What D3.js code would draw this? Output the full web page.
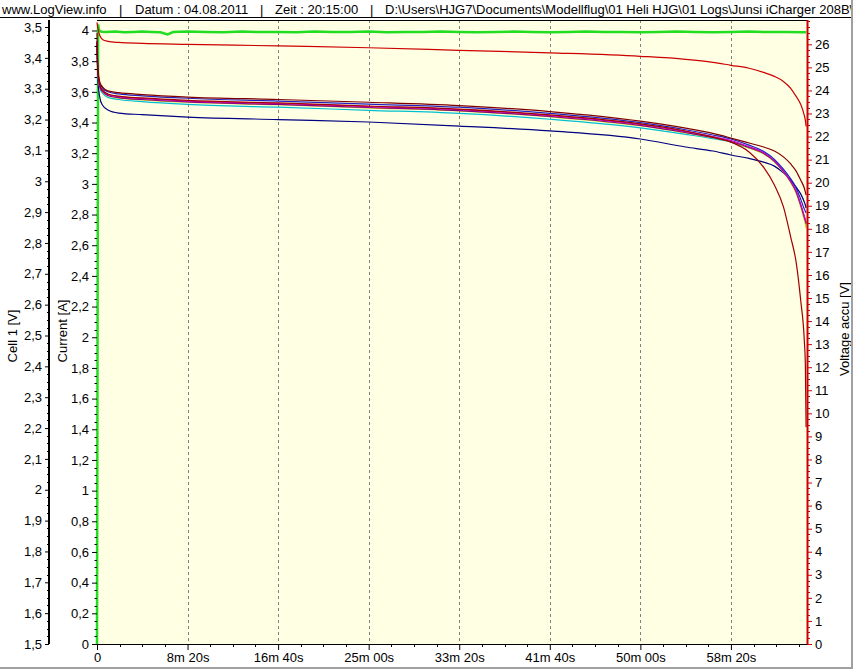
<!DOCTYPE html>
<html><head><meta charset="utf-8">
<script src="https://cdn.jsdelivr.net/npm/d3@7"></script>
<style>
body{margin:0;background:#fff;}
svg{display:block;font-family:"Liberation Sans",Arial,sans-serif;}
</style></head><body>
<svg id="chart" width="853" height="671"></svg>
<script>
// ---------- DATA ----------
const timeSec = [0,5,15,30,60,120,250,500,1000,1500,2000,2500,3000,3250,3400,3500,3600,3680,3740,3790,3830,3860,3885,3905,3911,3915];
const cellNavy    = [3.442,3.328,3.273,3.247,3.231,3.221,3.216,3.208,3.200,3.192,3.179,3.163,3.137,3.111,3.098,3.085,3.074,3.062,3.049,3.027,3.004,2.981,2.959,2.933,2.923,2.913];
const cellBlue    = [3.455,3.360,3.318,3.303,3.290,3.283,3.277,3.269,3.260,3.250,3.240,3.220,3.190,3.167,3.150,3.137,3.117,3.097,3.071,3.039,3.008,2.978,2.942,2.910,2.903,2.897];
const cellMaroon  = [3.481,3.370,3.322,3.306,3.293,3.287,3.281,3.273,3.265,3.256,3.245,3.226,3.195,3.172,3.155,3.140,3.124,3.111,3.098,3.079,3.056,3.033,3.004,2.978,2.965,2.955];
const cellRed     = [3.451,3.354,3.312,3.296,3.283,3.276,3.270,3.262,3.254,3.244,3.234,3.215,3.186,3.163,3.143,3.127,3.095,3.046,2.988,2.917,2.819,2.738,2.615,2.485,2.404,2.203];
const cellMagenta = [3.450,3.352,3.310,3.294,3.281,3.274,3.268,3.260,3.252,3.242,3.232,3.213,3.184,3.161,3.145,3.132,3.112,3.093,3.066,3.033,3.000,2.968,2.925,2.887,2.875,2.865];
const cellPurple  = [3.446,3.349,3.307,3.291,3.278,3.271,3.265,3.257,3.249,3.239,3.229,3.210,3.181,3.158,3.142,3.129,3.110,3.091,3.065,3.032,2.999,2.966,2.924,2.885,2.873,2.863];
const cellCyan    = [3.445,3.345,3.303,3.286,3.272,3.265,3.258,3.249,3.240,3.230,3.220,3.201,3.173,3.152,3.138,3.127,3.108,3.090,3.064,3.032,2.998,2.965,2.922,2.882,2.870,2.860];
const cellYellow  = [3.448,3.350,3.308,3.291,3.277,3.270,3.264,3.256,3.248,3.238,3.228,3.209,3.180,3.157,3.141,3.128,3.108,3.089,3.063,3.030,2.996,2.962,2.918,2.876,2.862,2.850];
const accuVolt    = [26.95,26.69,26.39,26.21,26.13,26.08,26.04,26.00,25.93,25.85,25.74,25.63,25.48,25.35,25.22,25.09,24.96,24.78,24.61,24.39,24.09,23.74,23.40,22.92,22.70,22.44];

const currentTime = [0,6,12,25,50,100,150,200,250,300,350,390,420,500,600,700,800,900,1000,1100,1200,1300,1400,1500,1600,1700,1800,1900,2000,2100,2200,2300,2400,2500,2600,2700,2800,2900,3000,3100,3200,3300,3400,3500,3600,3700,3800,3900,3915];
const currentAmp  = [0,4.04,4.0,3.992,3.99,3.993,3.989,3.991,3.993,3.99,3.988,3.975,3.99,3.993,3.99,3.989,3.993,3.99,3.991,3.989,3.993,3.99,3.991,3.993,3.989,3.99,3.991,3.993,3.99,3.989,3.991,3.993,3.99,3.989,3.991,3.993,3.99,3.991,3.989,3.99,3.993,3.99,3.989,3.991,3.993,3.99,3.991,3.989,3.988];

const xTickValues = [0,500,1000,1500,2000,2500,3000,3500];
const xTickLabels = ["0","8m 20s","16m 40s","25m 00s","33m 20s","41m 40s","50m 00s","58m 20s"];
const cellTickValues = [1.5,1.6,1.7,1.8,1.9,2.0,2.1,2.2,2.3,2.4,2.5,2.6,2.7,2.8,2.9,3.0,3.1,3.2,3.3,3.4,3.5];
const cellTickLabels = ["1,5","1,6","1,7","1,8","1,9","2","2,1","2,2","2,3","2,4","2,5","2,6","2,7","2,8","2,9","3","3,1","3,2","3,3","3,4","3,5"];
const curTickValues = [0,0.2,0.4,0.6,0.8,1.0,1.2,1.4,1.6,1.8,2.0,2.2,2.4,2.6,2.8,3.0,3.2,3.4,3.6,3.8,4.0];
const curTickLabels = ["0","0,2","0,4","0,6","0,8","1","1,2","1,4","1,6","1,8","2","2,2","2,4","2,6","2,8","3","3,2","3,4","3,6","3,8","4"];
const accuTickValues = [0,1,2,3,4,5,6,7,8,9,10,11,12,13,14,15,16,17,18,19,20,21,22,23,24,25,26];

const headerParts = ["www.LogView.info","|","Datum : 04.08.2011","|","Zeit : 20:15:00","|","D:\\Users\\HJG7\\Documents\\Modellflug\\01 Heli HJG\\01 Logs\\Junsi iCharger 208B\\"];

// ---------- LAYOUT ----------
const svg = d3.select("#chart");
const L = 97, R = 807, T = 20, B = 644;
const x = d3.scaleLinear().domain([0, 3920]).range([L, R]);
const yCell = d3.scaleLinear().domain([1.5, 3.5]).range([B, 27]);
const yCur = d3.scaleLinear().domain([0, 4]).range([B, 30.5]);
const yAccu = d3.scaleLinear().domain([0, 26]).range([B, 44.3]);

// header
const hx = [2,119,135,260,275,370,385];
svg.append("g").selectAll("text").data(headerParts).join("text")
  .attr("x",(d,i)=>hx[i]).attr("y",14).attr("font-size",13).attr("fill","#000")
  .text(d=>d);
svg.append("line").attr("x1",0).attr("x2",853).attr("y1",17.5).attr("y2",17.5).attr("stroke","#000");

// plot background
svg.append("rect").attr("x",L).attr("y",T).attr("width",R-L).attr("height",B-T).attr("fill","#ffffe4");

// grid
svg.append("g").selectAll("line").data(xTickValues.slice(1)).join("line")
  .attr("x1",d=>Math.round(x(d))+0.5).attr("x2",d=>Math.round(x(d))+0.5)
  .attr("y1",T).attr("y2",B).attr("stroke","#808080").attr("stroke-dasharray","3,3");

// series
svg.append("clipPath").attr("id","pc").append("rect").attr("x",L-3).attr("y",T).attr("width",R-L+3).attr("height",B-T);
const plot = svg.append("g").attr("clip-path","url(#pc)");

const curData = currentTime.map((t,i)=>[t,currentAmp[i]]);
plot.append("path").datum(curData)
  .attr("d", d3.line().x(d=>x(d[0])).y(d=>yCur(d[1])))
  .attr("fill","none").attr("stroke","#22dd22").attr("stroke-width",2.5);

const cells = [
  {c:"#000080", v:cellNavy},
  {c:"#00c0d0", v:cellCyan},
  {c:"#c0c000", v:cellYellow},
  {c:"#800080", v:cellPurple},
  {c:"#d000c0", v:cellMagenta},
  {c:"#2020c0", v:cellBlue},
  {c:"#a00000", v:cellRed},
  {c:"#800000", v:cellMaroon}
];
const cellLine = d3.line().curve(d3.curveMonotoneX).x(d=>x(d[0])).y(d=>yCell(d[1]));
cells.forEach(s=>{
  plot.append("path").datum(timeSec.map((t,i)=>[t,s.v[i]]))
    .attr("d",cellLine).attr("fill","none").attr("stroke",s.c).attr("stroke-width",1.2);
});
const accuLine = d3.line().curve(d3.curveMonotoneX).x(d=>x(d[0])).y(d=>yAccu(d[1]));
plot.append("path").datum(timeSec.map((t,i)=>[t,accuVolt[i]]))
  .attr("d",accuLine).attr("fill","none").attr("stroke","#cc0000").attr("stroke-width",1.2);

// frame
svg.append("line").attr("x1",L).attr("x2",R).attr("y1",T+0.5).attr("y2",T+0.5).attr("stroke","#000");

function styleAxis(g, tickColor){
  g.select(".domain").remove();
  g.attr("font-family",null).attr("font-size",null);
  g.selectAll("text").attr("font-size",13).attr("fill","#000");
  g.selectAll("line").attr("stroke",tickColor);
}
function minorTicks(vals, majors){
  return vals.filter(v=>!majors.some(m=>Math.abs(m-v)<1e-6));
}

// Cell axis
const cellAxisX = 49;
svg.append("g").attr("transform",`translate(${cellAxisX},0)`)
  .call(d3.axisLeft(yCell).tickValues(cellTickValues).tickFormat((d,i)=>cellTickLabels[i]).tickSize(4).tickPadding(3).tickSizeOuter(0))
  .call(g=>styleAxis(g,"#000"));
svg.append("g").selectAll("line").data(minorTicks(d3.range(1.5,3.5001,0.025),cellTickValues)).join("line")
  .attr("x1",cellAxisX-2).attr("x2",cellAxisX).attr("y1",d=>Math.round(yCell(d))+0.5).attr("y2",d=>Math.round(yCell(d))+0.5).attr("stroke","#000");
svg.append("line").attr("x1",cellAxisX).attr("x2",cellAxisX).attr("y1",T).attr("y2",B).attr("stroke","#000").attr("stroke-width",2);

// Current axis
svg.append("g").attr("transform",`translate(${L},0)`)
  .call(d3.axisLeft(yCur).tickValues(curTickValues).tickFormat((d,i)=>curTickLabels[i]).tickSize(5).tickPadding(3).tickSizeOuter(0))
  .call(g=>styleAxis(g,"#000"));
svg.append("g").selectAll("line").data(minorTicks(d3.range(0,4.0001,0.05),curTickValues)).join("line")
  .attr("x1",L-2.5).attr("x2",L).attr("y1",d=>Math.round(yCur(d))+0.5).attr("y2",d=>Math.round(yCur(d))+0.5).attr("stroke","#000");

// Accu axis
svg.append("g").attr("transform",`translate(${R},0)`)
  .call(d3.axisRight(yAccu).tickValues(accuTickValues).tickSize(5).tickPadding(3).tickSizeOuter(0))
  .call(g=>styleAxis(g,"#cc0000"));
svg.append("g").selectAll("line").data(minorTicks(d3.range(0,27.0001,0.25),accuTickValues).filter(v=>yAccu(v)>=T)).join("line")
  .attr("x1",R).attr("x2",R+3).attr("y1",d=>Math.round(yAccu(d))+0.5).attr("y2",d=>Math.round(yAccu(d))+0.5).attr("stroke","#cc0000");
svg.append("line").attr("x1",R+0.5).attr("x2",R+0.5).attr("y1",T).attr("y2",B).attr("stroke","#cc0000").attr("stroke-width",2);

// X axis
svg.append("g").attr("transform",`translate(0,${B})`)
  .call(d3.axisBottom(x).tickValues(xTickValues).tickFormat((d,i)=>xTickLabels[i]).tickSize(6).tickPadding(3).tickSizeOuter(0))
  .call(g=>styleAxis(g,"#000"));
svg.append("g").selectAll("line").data(minorTicks(d3.range(0,3920,125),xTickValues)).join("line")
  .attr("x1",d=>Math.round(x(d))+0.5).attr("x2",d=>Math.round(x(d))+0.5).attr("y1",B).attr("y2",B+3).attr("stroke","#000");
svg.append("line").attr("x1",L).attr("x2",R).attr("y1",B+0.5).attr("y2",B+0.5).attr("stroke","#000");

// axis titles
function vTitle(txt, cx, cy){
  svg.append("text").attr("transform",`translate(${cx},${cy}) rotate(-90)`)
    .attr("text-anchor","middle").attr("dy","0.35em").attr("font-size",13).attr("fill","#000").text(txt);
}
vTitle("Cell 1 [V]", 12, 336);
vTitle("Current [A]", 62, 331);
vTitle("Voltage accu [V]", 844, 329);

// outer border
svg.append("line").attr("x1",0).attr("x2",853).attr("y1",668).attr("y2",668).attr("stroke","#a0a0a0").attr("stroke-width",2);
svg.append("line").attr("x1",852).attr("x2",852).attr("y1",0).attr("y2",669).attr("stroke","#a0a0a0").attr("stroke-width",2);
</script>
</body></html>
